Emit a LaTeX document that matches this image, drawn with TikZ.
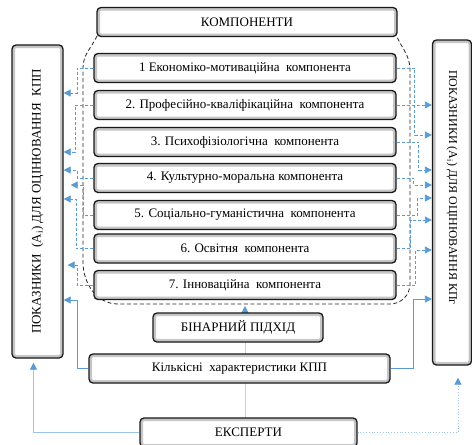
\documentclass[tikz,border=0pt]{standalone}
\usepackage{fontspec}
\setmainfont{Liberation Serif}
\usepackage{xcolor}
\usetikzlibrary{arrows.meta, positioning, calc}
\definecolor{strblue}{HTML}{5B9BD5}
\definecolor{paleblue}{HTML}{9DC3E6}

\begin{document}
\begin{tikzpicture}[
        x=1pt, y=-1pt,
        every node/.style={font=\fontsize{13}{15}\selectfont},
        blok/.style={draw=black!90, line width=1.3pt, rounded corners=4pt, fill=white,
                     inner sep=0pt, minimum height=29pt,
                     path picture={\draw[gray!45, line width=6pt]
                       (path picture bounding box.south west) rectangle
                       (path picture bounding box.north east);}},
        comp/.style={blok, minimum width=302pt},
        side/.style={blok, minimum width=51pt},
        ramka/.style={dash pattern=on 4pt off 2.5pt, line width=0.8pt, color=black!85},
        darr/.style={strblue, line width=0.8pt, dash pattern=on 3pt off 2pt,
                     -{Triangle[width=7pt, length=7pt]}},
        sarr/.style={strblue, line width=0.8pt, -{Triangle[width=7pt, length=7pt]}},
        parr/.style={paleblue, line width=0.8pt, -{Triangle[width=7pt, length=7pt, color=strblue]}}
      ]
      \useasboundingbox (0,0) rectangle (472,445);
      \coordinate (F) at (245,306);
      \draw[ramka] (97,36) to[out=-115, in=90] (83,68) -- (83,262)
        to[out=-90, in=180] (118,304) -- (390,304) to[out=0, in=-90] (410,284)
        -- (410,70) to[out=90, in=-65] (397,37);
      \draw[parr, paleblue!70] (245,420) -- (F);
      \node[blok, minimum width=300pt] (K) at (247,22) {КОМПОНЕНТИ};
      \node[comp] (C1) at (245,68) {1 Економіко-мотиваційна~ компонента};
      \node[comp] (C2) at (245,105) {2. Професійно-кваліфікаційна~ компонента};
      \node[comp] (C3) at (245,142) {3. Психофізіологічна~ компонента};
      \node[comp] (C4) at (245,178) {4. Культурно-моральна компонента};
      \node[comp] (C5) at (245,215) {5. Соціально-гуманістична~ компонента};
      \node[comp] (C6) at (245,248.5) {6. Освітня~ компонента};
      \node[comp] (C7) at (245,285) {7. Інноваційна~ компонента};
      \node[blok, minimum width=170pt] (B) at (238,327.5) {БІНАРНИЙ ПІДХІД};
      \node[blok, minimum width=301pt] (Q) at (239.5,368.5) {Кількісні~ характеристики КПП};
      \node[blok, minimum width=217pt] (E) at (248.5,432.5) {ЕКСПЕРТИ};
      \node[side, minimum height=313pt] (L) at (37.5,201.5)
        {\rotatebox{90}{ПОКАЗНИКИ~ (A\textsubscript{i}) ДЛЯ ОЦІНЮВАННЯ~ КПП}};
      \node[side, minimum width=39pt, minimum height=325pt, font=\fontsize{12}{14}\selectfont] (R) at (452,202.5)
        {\rotatebox{-90}{ПОКАЗНИКИ (A\textsubscript{i}) ДЛЯ ОЦІНЮВАННЯ КПг\hspace*{30pt}}};
      \draw[darr] (C1.west) -- ++(-16,0) |- (L.east |- 0,93);
      \draw[darr] (C2.west) -- ++(-18,0) |- (L.east |- 0,152);
      \draw[darr] (C4.west) -- ++(-16,0) |- (L.east |- 0,170);
      \draw[darr, shorten >=7pt] (C5.west) -- ++(-10,0) |- (L.east |- 0,185);
      \draw[darr] (C6.west) -- ++(-17,0) |- (L.east |- 0,199);
      \draw[darr, shorten >=4pt] (C7.west) -- ++(-16,0) |- (L.east |- 0,265);
      \draw[sarr] (Q.west) -- ++(-11,0) |- (L.east |- 0,300);
      \draw[parr, shorten >=4pt] (E.west) -| ([xshift=-4pt]L.south);
      \draw[darr] (C1.east) -- ++(18,0) |- (R.west |- 0,135);
      \draw[darr] (C2.east) -- (R.west |- C2.east);
      \draw[darr] (C3.east) -- ++(22,0) |- (R.west |- 0,170);
      \draw[darr] (C4.east) -- ++(17,0) |- (R.west |- 0,185);
      \draw[darr] (C5.east) -- ++(21,0) |- (R.west |- 0,198);
      \draw[darr] (C6.east) -- ++(14,0) |- (R.west |- 0,220);
      \draw[darr] (C7.east) -- ++(19,0) |- (R.west |- 0,250);
      \draw[sarr] (Q.east) -- ++(23,0) |- (R.west |- 0,299);
      \draw[parr, dotted, shorten >=12pt] (E.east) -| ([xshift=6pt]R.south);
    \end{tikzpicture}
\end{document}
